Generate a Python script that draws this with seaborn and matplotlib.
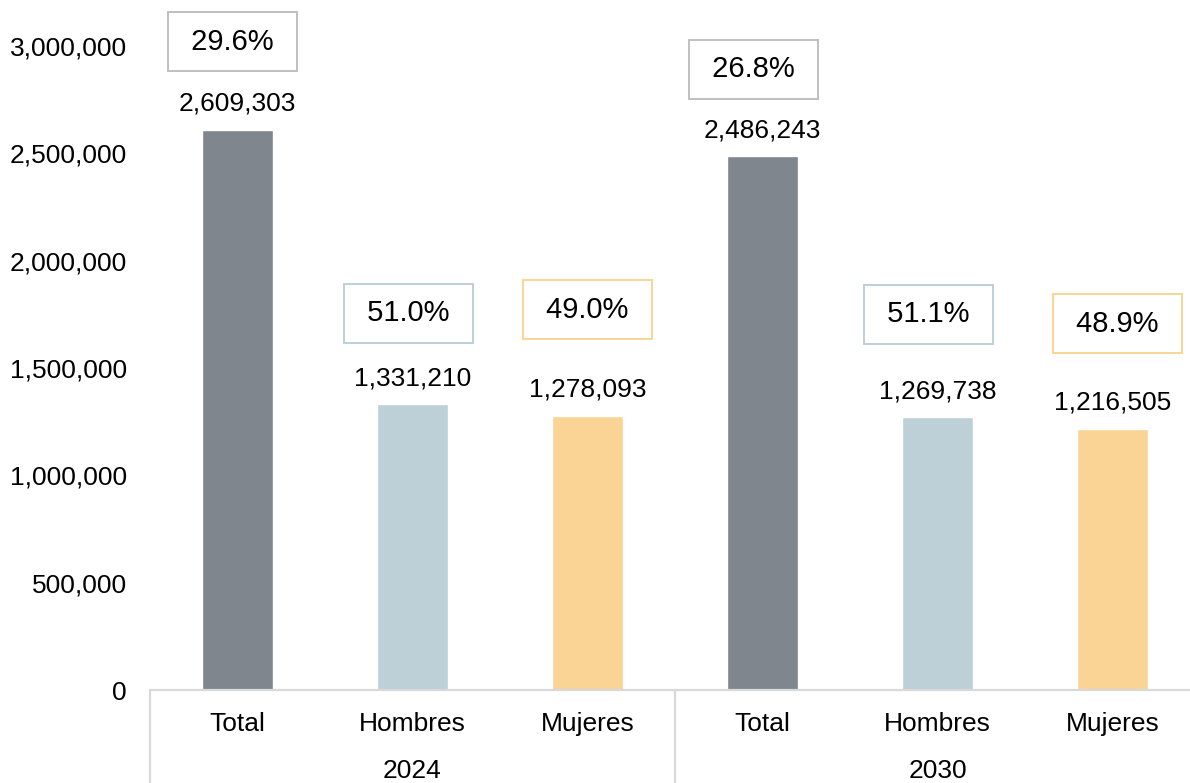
import pandas as pd
import seaborn as sns
import matplotlib.pyplot as plt
import matplotlib.transforms as mtransforms
from matplotlib.ticker import FuncFormatter

# Data
years = ["2024", "2030"]
categories = ["Total", "Hombres", "Mujeres"]
population_2024 = [2609303, 1331210, 1278093]
population_2030 = [2486243, 1269738, 1216505]
share_2024 = [29.6, 51.0, 49.0]
share_2030 = [26.8, 51.1, 48.9]

colors = {"Total": "#7F868D", "Hombres": "#BDD0D7", "Mujeres": "#F9D494"}
box_edges = {"Total": "#BFBFBF", "Hombres": "#BDD0D7", "Mujeres": "#F9D494"}
# manual placement of the percentage boxes (pixels above/aside each bar top)
box_offsets = [(-5, 88), (-4, 91), (0, 106), (-9, 87), (-9, 103), (5, 105)]

rows = []
for year, pops, shares in [(years[0], population_2024, share_2024),
                           (years[1], population_2030, share_2030)]:
    for cat, pop, sh in zip(categories, pops, shares):
        rows.append({"year": year, "category": cat, "key": f"{year} {cat}",
                     "population": pop, "share": sh})
df = pd.DataFrame(rows)

sns.set_theme(style="white")
plt.rcParams["font.family"] = ["Liberation Sans", "DejaVu Sans"]

fig = plt.figure(figsize=(11.9, 7.83), dpi=100)
W, H = 1190, 783
ax = fig.add_axes([150 / W, 93 / H, 1050 / W, 644 / H])

sns.barplot(data=df, x="key", y="population", hue="category",
            palette=colors, dodge=False, width=0.41, saturation=1,
            legend=False, ax=ax)

ax.set_ylim(0, 3000000)
ax.set_xlim(-0.5, len(df) - 0.5)
ax.yaxis.set_major_formatter(FuncFormatter(lambda v, p: f"{v:,.0f}"))
ax.tick_params(axis="y", length=0, pad=16.5, labelsize=19, labelcolor="black")
ax.tick_params(axis="x", length=0, pad=15.5, labelsize=19, labelcolor="black")
ax.set_xticks(range(len(df)))
ax.set_xticklabels(df["category"])
ax.set_xlabel("")
ax.set_ylabel("")

for side in ["left", "top", "right"]:
    ax.spines[side].set_visible(False)
ax.spines["bottom"].set_color("#D9D9D9")
ax.spines["bottom"].set_linewidth(1.6)

# value labels above each bar
for cont in ax.containers:
    ax.bar_label(cont, labels=[f"{v:,.0f}" for v in cont.datavalues],
                 padding=10, fontsize=19, color="black")

# percentage boxes
for i, row in df.iterrows():
    ax.annotate(f" {row['share']:.1f}% ", xy=(i, row["population"]),
                xytext=box_offsets[i], textcoords="offset pixels",
                ha="center", va="center", fontsize=21, color="black",
                annotation_clip=False,
                bbox=dict(boxstyle="square,pad=0.53", fc="white",
                          ec=box_edges[row["category"]], lw=1.4))

# year group labels and separators under the axis
trans = mtransforms.blended_transform_factory(ax.transData, ax.transAxes)
n = len(categories)
for g, year in enumerate(years):
    ax.text(g * n + (n - 1) / 2, -0.126, year, transform=trans,
            ha="center", va="center", fontsize=19, color="black")
for xsep in [-0.5, n - 0.5, 2 * n - 0.5]:
    ax.plot([xsep, xsep], [0, -0.2], transform=trans, color="#D9D9D9",
            lw=1.6, clip_on=False)

fig.savefig("out.png", dpi=100)
